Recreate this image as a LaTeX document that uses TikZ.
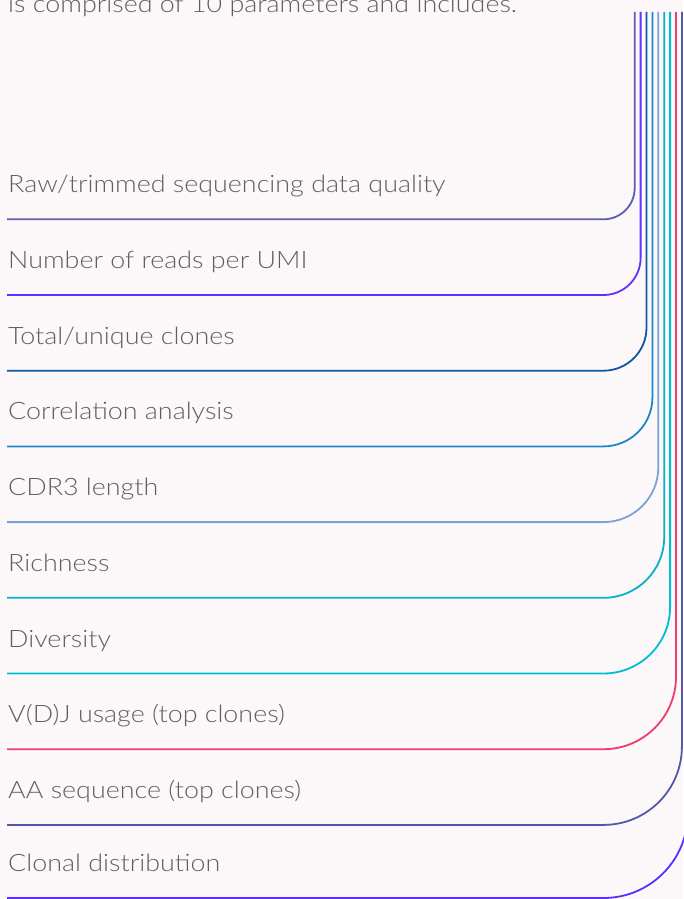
\documentclass[tikz,border=0pt]{standalone}
\usepackage{fontspec}
\setmainfont{Lato}[UprightFont=* Light, FakeStretch=1.12]
\definecolor{bg}{HTML}{FCF8F9}
\definecolor{txt}{HTML}{5C6064}
\definecolor{cA}{HTML}{5B5EA8}
\definecolor{cB}{HTML}{6230FF}
\definecolor{cC}{HTML}{0F56A3}
\definecolor{cD}{HTML}{1C87CB}
\definecolor{cE}{HTML}{7BA3D6}
\definecolor{cF}{HTML}{08B0C8}
\definecolor{cG}{HTML}{00BDD3}
\definecolor{cH}{HTML}{EE3D6A}
\definecolor{cI}{HTML}{5359A8}
\definecolor{cJ}{HTML}{5B2EFF}
\tikzset{
  lbl/.style={anchor=base west, inner sep=0pt, text=txt, font=\fontsize{24}{28}\selectfont},
  wire/.style={line width=1.8pt},
}
\begin{document}
\begin{tikzpicture}[x=1pt,y=-1pt]
\fill[bg] (0,0) rectangle (683,899);
\useasboundingbox (0,0) rectangle (683,899);
\node[lbl] (intro) at (8,12.7) {is comprised of 10 parameters and includes.};
\foreach \i/\c/\t in {
  1/cA/{Raw/trimmed sequencing data quality},
  2/cB/{Number of reads per UMI},
  3/cC/{Total/unique clones},
  4/cD/{Correlation analysis},
  5/cE/{CDR3 length},
  6/cF/{Richness},
  7/cG/{Diversity},
  8/cH/{V(D)J usage (top clones)},
  9/cI/{AA sequence (top clones)},
  10/cJ/{Clonal distribution}}{
  \pgfmathsetmacro{\yy}{min(219.3+75.7*(\i-1),898)}
  \pgfmathsetmacro{\xx}{634.7+5.9*(\i-1)}
  \pgfmathsetmacro{\rr}{\xx-603.5}
  \coordinate (s\i) at (7,\yy);
  \coordinate (e\i) at (\xx,12);
  \node[lbl] (t\i) at (8,\yy-26.5) {\t};
  \draw[wire,draw=\c,rounded corners=\rr pt] (s\i) -| (e\i);
}
\end{tikzpicture}
\end{document}
